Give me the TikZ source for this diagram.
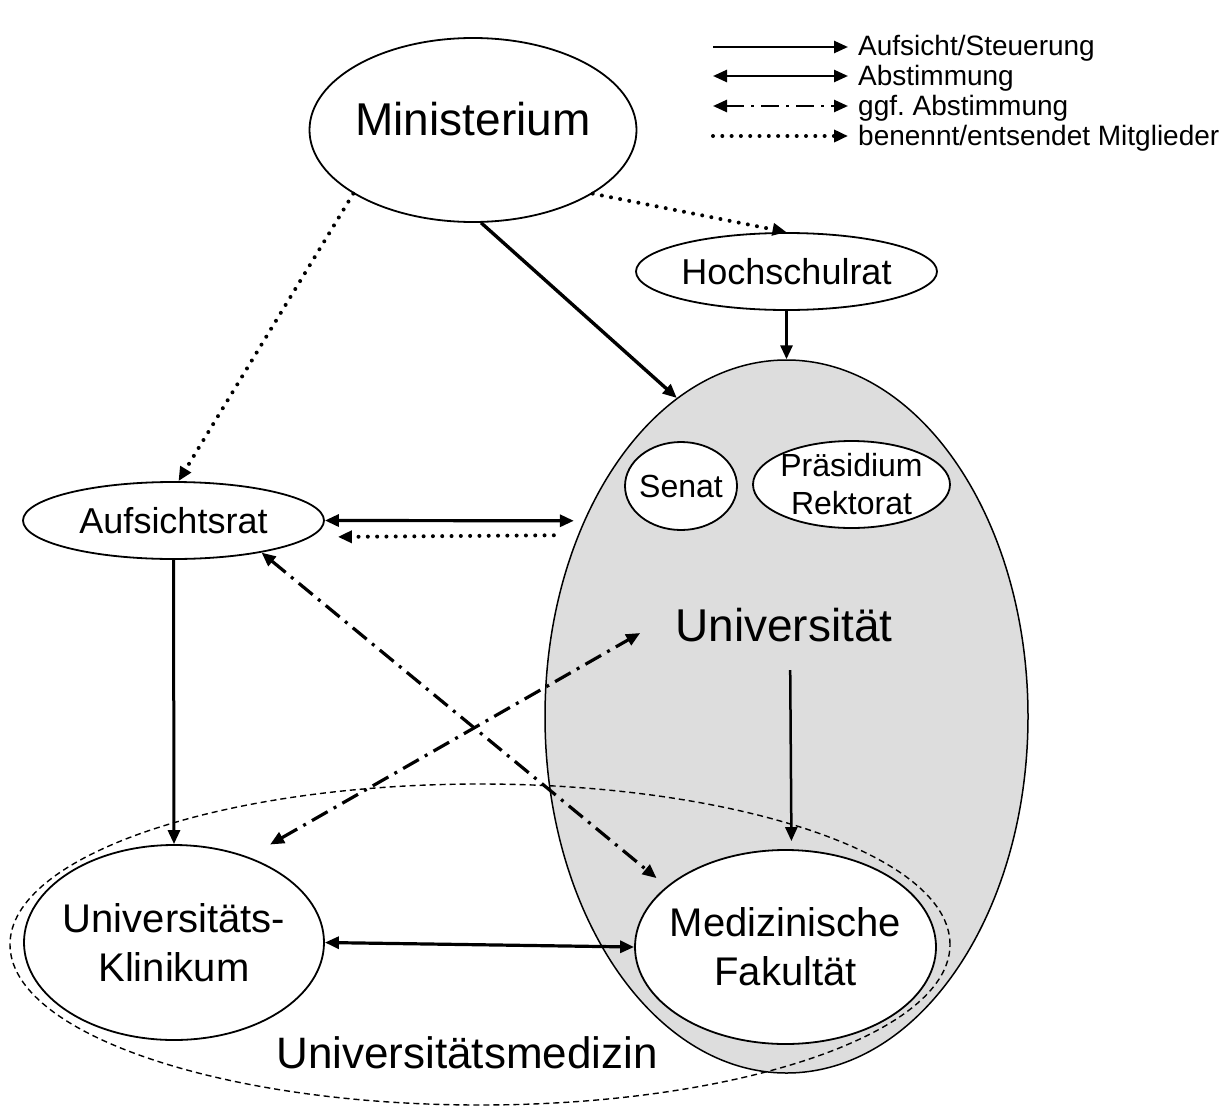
\documentclass[tikz,border=0pt]{standalone}
\usepackage{fontspec}
\setmainfont{Liberation Sans}
\usepackage{xcolor}
\usepackage{tikz}
\usetikzlibrary{shapes.geometric,arrows.meta}
\definecolor{unigray}{RGB}{221,221,221}

\tikzset{
  org/.style={draw, ellipse, line width=1.8pt, fill=white, inner xsep=-20pt, inner ysep=-10pt, align=center},
  steer/.style={->, line width=3pt},
  agree/.style={<->, line width=3.2pt},
  maybe/.style={<->, line width=3.2pt, dash pattern=on 18pt off 7pt on 3pt off 7pt},
  sends/.style={->, line width=4pt, line cap=round, dash pattern=on 0pt off 9.3pt},
  legtext/.style={inner sep=0pt, anchor=base west, font=\fontsize{28}{30}\selectfont}
}

\begin{document}
\begin{tikzpicture}[x=1pt, y=-1pt, >={Triangle[length=14pt,width=12pt]}]
    \useasboundingbox (0,0) rectangle (1226,1108);

    \node[draw, ellipse, fill=unigray, line width=1.5pt, inner sep=0pt, minimum width=483pt, minimum height=713pt] (uni) at (786.5,716.5) {};
    \draw[line width=1.4pt, dash pattern=on 6pt off 4pt] (480,944.5) ellipse [x radius=470pt, y radius=160.5pt];

    \node[org, minimum width=327pt, minimum height=184pt, text depth=22pt, font=\fontsize{46}{50}\selectfont] (min) at (473,130) {Ministerium};
    \node[org, minimum width=301pt, minimum height=77pt, font=\fontsize{36}{40}\selectfont] (hsr) at (786.5,271.5) {Hochschulrat};
    \node[org, minimum width=301pt, minimum height=77pt, font=\fontsize{36}{40}\selectfont] (aufs) at (173.5,520.5) {Aufsichtsrat};
    \node[org, minimum width=112pt, minimum height=88pt, font=\fontsize{32}{38}\selectfont] (senat) at (681,486) {Senat};
    \node[org, minimum width=197pt, minimum height=87pt, font=\fontsize{32}{38}\selectfont] (praes) at (851.5,484.5) {Präsidium\\Rektorat};
    \node[org, minimum width=300pt, minimum height=195pt, font=\fontsize{40}{49}\selectfont] (klin) at (174,942.5) {Universitäts-\\Klinikum};
    \node[org, minimum width=301pt, minimum height=194pt, font=\fontsize{40}{49}\selectfont] (med) at (785.5,947) {Medizinische\\Fakultät};
    \node[inner sep=0pt, font=\fontsize{46}{50}\selectfont] (unilabel) at (784,625) {Universität};
    \node[inner sep=0pt, font=\fontsize{44}{48}\selectfont] (umedlabel) at (467,1053) {Universitätsmedizin};

    \draw[steer, line width=3.4pt] (min.-85) -- (uni.109);
    \draw[sends] (min.-28) -- (hsr.north);
    \draw[sends] (min.208) -- ([xshift=5pt]aufs.north);
    \draw[steer] (hsr.south) -- (uni.north);
    \draw[agree, shorten >=10pt] (aufs.east) -- (uni.136);
    \draw[sends, shorten <=24pt, shorten >=13pt] (uni.139) -- ([yshift=-16.5pt]aufs.east);
    \draw[steer] (aufs.south) -- (klin.north);
    \draw[maybe, shorten >=13pt] (aufs.-20) -- (med.153);
    \draw[maybe, shorten <=25pt] (klin.49) -- ([xshift=-35pt,yshift=-8pt]unilabel.west);
    \draw[steer, line width=2.5pt, shorten <=28pt, shorten >=8pt] ([xshift=6pt]unilabel.south) -- ([xshift=6pt]med.north);
    \draw[agree] (klin.east) -- (med.west);

    \coordinate (leg1) at (713,47);
    \coordinate (leg2) at (713,76);
    \coordinate (leg3) at (713,106);
    \coordinate (leg4) at (713,136);
    \node[legtext] (legtxt1) at (858,56) {Aufsicht/Steuerung};
    \node[legtext] (legtxt2) at (858,85) {Abstimmung};
    \node[legtext] (legtxt3) at (858,115) {ggf.\ Abstimmung};
    \node[legtext] (legtxt4) at (858,145) {benennt/entsendet Mitglieder};
    \draw[steer, line width=2.5pt, shorten >=10pt] (leg1) -- (leg1 -| legtxt1.west);
    \draw[agree, line width=2.5pt, shorten >=10pt] (leg2) -- (leg2 -| legtxt2.west);
    \draw[maybe, line width=2.5pt, shorten >=10pt] (leg3) -- (leg3 -| legtxt3.west);
    \draw[sends, shorten >=10pt] (leg4) -- (leg4 -| legtxt4.west);
\end{tikzpicture}
\end{document}
